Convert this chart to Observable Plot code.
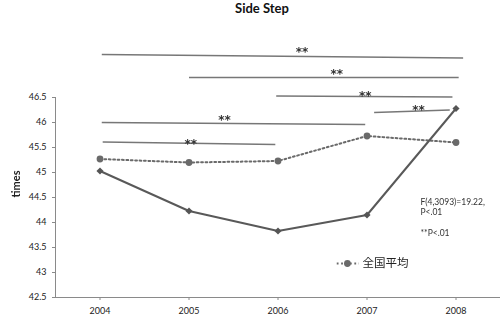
<!DOCTYPE html>
<html>
<head>
<meta charset="utf-8">
<script src="https://cdn.jsdelivr.net/npm/d3@7"></script>
<script src="https://cdn.jsdelivr.net/npm/@observablehq/plot@0.6"></script>
<style>
  body { margin: 0; background: #fff; }
  #wrap { width: 500px; height: 320px; position: relative; overflow: hidden; }
  #title {
    height: 30px; line-height: 38px; padding-left: 24px; box-sizing: border-box;
    text-align: center; font: bold 13px Lato, "Liberation Sans", sans-serif; color: #111;
  }
  svg { display: block; }
  svg g[aria-label="text"] { filter: grayscale(100%); }
</style>
</head>
<body>
<div id="wrap">
  <div id="title">Side Step</div>
  <div id="chart"></div>
</div>
<script>
// Side-step scores per survey year: the school (solid) and the national average (dotted)
const years = [2004, 2005, 2006, 2007, 2008];
const school = [45.03, 44.23, 43.83, 44.15, 46.28];
const national = [45.27, 45.20, 45.23, 45.73, 45.60];
const nationalName = "全国平均";

// y-axis ticks
const yTicks = [42.5, 43, 43.5, 44, 44.5, 45, 45.5, 46, 46.5];

// significance brackets (year units on x, score units on y)
const sigX1 = [2004.02, 2005.00, 2005.98, 2007.08, 2004.02, 2004.03];
const sigX2 = [2008.08, 2008.03, 2007.96, 2007.93, 2006.98, 2005.97];
const sigY1 = [47.36, 46.90, 46.53, 46.20, 46.00, 45.61];
const sigY2 = [47.29, 46.90, 46.51, 46.25, 45.96, 45.56];
const sigLabelX = [2006.27, 2006.66, 2006.98, 2007.58, 2005.40, 2005.02];
const sigLabelY = [47.47, 47.03, 46.59, 46.31, 46.11, 45.63];
const sigLabel = "**";

// test statistics note
const noteLines = ["F(4,3093)=19.22,", "P<.01", "**P<.01"];
const noteY = [44.41, 44.21, 43.79];

const schoolRows = years.map((year, i) => ({year, value: school[i]}));
const nationalRows = years.map((year, i) => ({year, value: national[i]}));
const sig = sigX1.map((x1, i) => ({x1, x2: sigX2[i], y1: sigY1[i], y2: sigY2[i], lx: sigLabelX[i], ly: sigLabelY[i]}));
const notes = noteLines.map((text, i) => ({text, y: noteY[i]}));

// legend entry placed inside the plot area
const legend = {x1: 2006.66, x2: 2006.91, dot: 2006.78, text: 2006.95, y: 43.18};

const font = "Lato, 'Liberation Sans', sans-serif";
const dotted = "1.8,2.6";

const chart = Plot.plot({
  width: 500,
  height: 290,
  marginLeft: 55,
  marginRight: 0,
  marginTop: 67,
  marginBottom: 23,
  style: {fontFamily: font, color: "#222", background: "#fff"},
  x: {domain: [2003.5, 2008.5]},
  y: {domain: [42.5, 46.5]},
  marks: [
    // frame: left axis line and baseline
    Plot.ruleX([2003.5], {y1: 42.5, y2: 46.5, stroke: "#8a8a8a"}),
    Plot.ruleY([42.5], {x1: 2003.5, x2: 2008.5, stroke: "#8a8a8a"}),
    Plot.axisY({ticks: yTicks, tickSize: 3, tickPadding: 6, tickFormat: d => String(d),
                fontSize: 9, label: null, stroke: "#8a8a8a"}),
    Plot.axisX({ticks: years, tickSize: 3, tickPadding: 7, tickFormat: d => String(d),
                fontSize: 9, label: null, stroke: "#8a8a8a"}),
    Plot.text(["times"], {frameAnchor: "left", dx: -39, rotate: -90, fontSize: 11, fontWeight: "bold"}),

    // significance brackets
    Plot.link(sig, {x1: "x1", x2: "x2", y1: "y1", y2: "y2", stroke: "#777", strokeWidth: 1.3}),
    Plot.text(sig, {x: "lx", y: "ly", text: () => sigLabel, fontSize: 12, fontWeight: "bold",
                    fontFamily: "'DejaVu Sans', sans-serif", dy: 3.5, fill: "#333"}),

    // national average: dotted line with circles
    Plot.line(nationalRows, {x: "year", y: "value", stroke: "#6a6a6a", strokeWidth: 2, strokeDasharray: dotted}),
    Plot.dot(nationalRows, {x: "year", y: "value", r: 3.4, fill: "#6a6a6a", stroke: "none"}),

    // school: solid line with diamonds
    Plot.line(schoolRows, {x: "year", y: "value", stroke: "#595959", strokeWidth: 2}),
    Plot.dot(schoolRows, {x: "year", y: "value", symbol: "diamond2", r: 3.2, fill: "#555", stroke: "none"}),

    // statistics note
    Plot.text(notes, {x: 2007.6, y: "y", text: "text", textAnchor: "start", fontSize: 8.5, fill: "#333"}),

    // legend
    Plot.link([legend], {x1: "x1", x2: "x2", y1: "y", y2: "y", stroke: "#6a6a6a", strokeWidth: 2, strokeDasharray: dotted}),
    Plot.dot([legend], {x: "dot", y: "y", r: 3.4, fill: "#6a6a6a", stroke: "none"}),
    Plot.text([legend], {x: "text", y: "y", text: () => nationalName, textAnchor: "start",
                         fontSize: 11.5, fontFamily: "'Noto Sans CJK JP', sans-serif", fill: "#222"})
  ]
});
document.getElementById("chart").appendChild(chart);
</script>
</body>
</html>
